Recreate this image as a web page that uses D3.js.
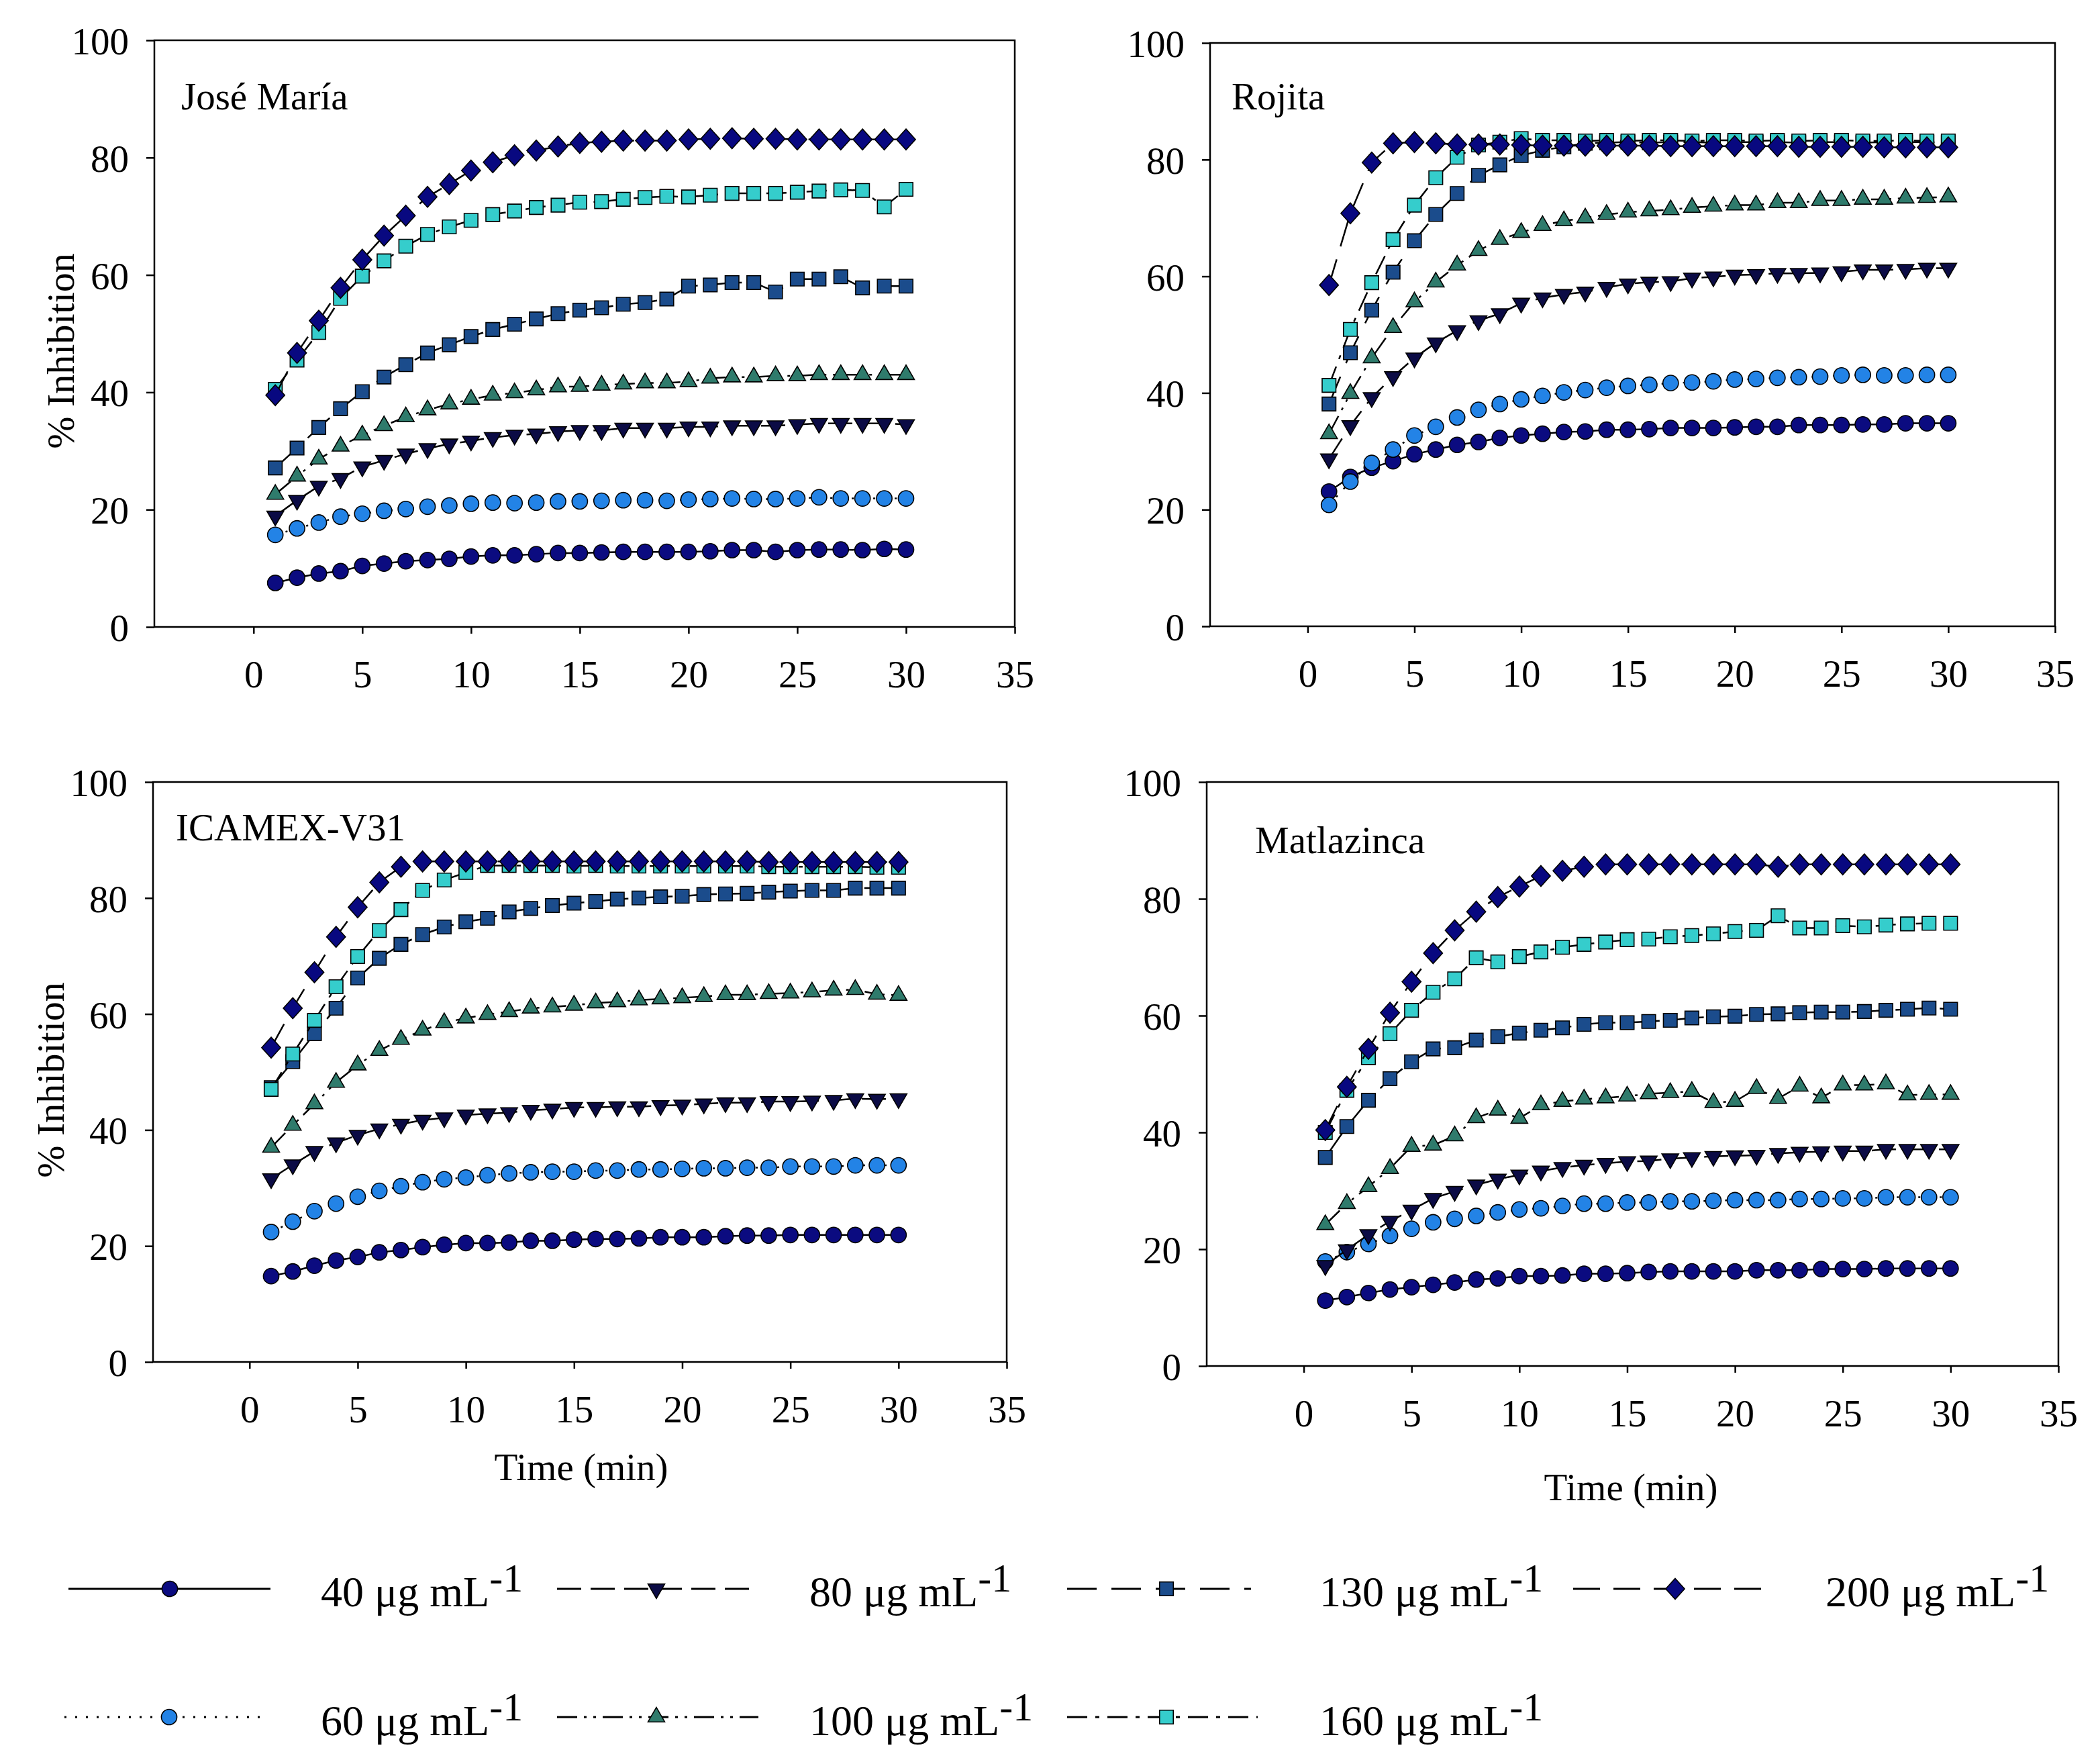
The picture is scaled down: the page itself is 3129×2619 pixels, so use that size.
<!DOCTYPE html>
<html>
<head>
<meta charset="utf-8">
<script src="https://cdn.jsdelivr.net/npm/d3@7"></script>
<style>
  body { margin: 0; background: #fff; }
  svg text { font-family: "Liberation Serif", "Times New Roman", serif; fill: #000; }
</style>
</head>
<body>
<div id="chart"></div>
<script>
// x values (minutes)
const time = [1,2,3,4,5,6,7,8,9,10,11,12,13,14,15,16,17,18,19,20,21,22,23,24,25,26,27,28,29,30];
const concentrations = [40, 60, 80, 100, 130, 160, 200];
const panelNames = ["José María", "Rojita", "ICAMEX-V31", "Matlazinca"];
const xTicks = [0, 5, 10, 15, 20, 25, 30, 35];
const yTicks = [0, 20, 40, 60, 80, 100];

// José María
const jm40  = [7.5,8.4,9.1,9.5,10.4,10.8,11.2,11.4,11.6,12.0,12.2,12.2,12.4,12.6,12.6,12.7,12.8,12.8,12.8,12.8,12.9,13.1,13.1,12.8,13.1,13.2,13.2,13.1,13.3,13.2];
const jm60  = [15.7,16.8,17.8,18.8,19.3,19.8,20.1,20.5,20.7,21.0,21.2,21.1,21.2,21.4,21.4,21.5,21.6,21.6,21.5,21.7,21.8,21.9,21.8,21.8,21.9,22.1,21.9,21.9,21.9,21.9];
const jm80  = [18.9,21.6,24.0,25.3,27.3,28.4,29.5,30.4,31.2,31.7,32.3,32.7,32.9,33.3,33.5,33.5,33.9,33.9,33.9,34.1,34.1,34.3,34.3,34.3,34.5,34.7,34.7,34.7,34.7,34.5];
const jm100 = [22.6,25.7,28.6,30.8,32.7,34.3,35.8,37.0,38.0,38.8,39.5,39.9,40.4,40.9,41.0,41.2,41.4,41.6,41.6,41.8,42.4,42.6,42.6,42.8,42.8,43.0,43.0,43.0,43.0,43.0];
const jm130 = [27.1,30.5,34.0,37.2,40.1,42.6,44.7,46.7,48.1,49.5,50.7,51.6,52.5,53.4,54.0,54.4,55.0,55.3,55.9,58.1,58.3,58.7,58.7,57.1,59.3,59.3,59.7,57.8,58.1,58.1];
const jm160 = [40.5,45.5,50.2,56.0,59.8,62.4,64.9,66.9,68.2,69.3,70.3,70.9,71.5,71.9,72.4,72.5,72.9,73.2,73.4,73.3,73.6,73.9,73.9,73.9,74.1,74.3,74.5,74.4,71.6,74.6];
const jm200 = [39.5,46.7,52.2,57.8,62.6,66.7,70.1,73.3,75.5,77.8,79.2,80.4,81.2,81.9,82.5,82.7,82.9,82.9,82.9,83.1,83.2,83.3,83.2,83.2,83.1,83.1,83.1,83.1,83.1,83.1];

// Rojita
const ro40  = [23.1,25.6,27.2,28.3,29.5,30.3,31.1,31.6,32.3,32.7,33.0,33.3,33.4,33.7,33.7,33.8,34.0,34.0,34.0,34.1,34.2,34.2,34.5,34.5,34.5,34.6,34.6,34.8,34.8,34.8];
const ro60  = [20.8,24.8,28.0,30.3,32.7,34.2,35.8,37.1,38.1,38.9,39.5,40.1,40.5,40.9,41.2,41.4,41.7,41.8,42.0,42.3,42.4,42.6,42.7,42.8,43.0,43.1,43.0,43.0,43.1,43.1];
const ro80  = [28.7,34.4,39.2,42.8,46.0,48.6,50.7,52.4,53.6,55.4,56.3,56.9,57.3,58.1,58.7,59.0,59.1,59.7,59.9,60.2,60.3,60.5,60.5,60.6,60.8,61.1,61.1,61.2,61.4,61.4];
const ro100 = [33.0,39.9,46.0,51.2,55.6,59.0,61.9,64.4,66.3,67.5,68.7,69.5,70.0,70.6,71.0,71.2,71.4,71.8,72.0,72.2,72.2,72.6,72.6,73.0,73.0,73.2,73.2,73.4,73.5,73.6];
const ro130 = [38.1,46.9,54.2,60.7,66.1,70.6,74.2,77.3,79.1,80.7,81.6,82.2,82.8,82.9,83.0,82.9,83.0,83.0,82.9,83.0,83.0,83.0,82.9,83.0,83.0,82.9,83.0,83.0,83.0,82.9];
const ro160 = [41.3,50.9,58.9,66.3,72.2,76.9,80.4,82.5,83.0,83.6,83.3,83.3,83.2,83.3,83.2,83.3,83.3,83.2,83.3,83.3,83.2,83.3,83.2,83.3,83.3,83.2,83.2,83.3,83.2,83.2];
const ro200 = [58.5,70.8,79.5,82.8,83.0,82.8,82.6,82.6,82.6,82.5,82.4,82.4,82.4,82.4,82.4,82.4,82.3,82.3,82.3,82.3,82.3,82.3,82.2,82.2,82.2,82.2,82.1,82.1,82.1,82.1];

// ICAMEX-V31
const ic40  = [14.8,15.6,16.6,17.5,18.1,18.9,19.3,19.8,20.2,20.5,20.5,20.6,20.9,20.9,21.1,21.2,21.2,21.3,21.5,21.5,21.5,21.7,21.8,21.8,21.9,21.9,21.9,21.9,21.9,21.9];
const ic60  = [22.4,24.2,26.0,27.3,28.5,29.5,30.3,31.0,31.5,31.8,32.2,32.5,32.7,32.8,32.8,33.0,33.0,33.2,33.2,33.3,33.4,33.4,33.5,33.5,33.7,33.7,33.7,33.9,33.9,33.9];
const ic80  = [31.6,34.0,36.3,37.8,39.1,40.2,41.0,41.7,42.1,42.6,42.8,43.0,43.4,43.6,43.9,43.9,44.0,44.0,44.2,44.3,44.5,44.7,44.7,44.9,44.9,45.0,45.1,45.4,45.3,45.4];
const ic100 = [37.0,40.8,44.5,48.2,51.2,53.7,55.6,57.2,58.5,59.3,59.9,60.4,61.0,61.2,61.5,61.9,62.1,62.4,62.6,62.8,63.0,63.3,63.3,63.5,63.6,63.8,64.1,64.2,63.4,63.2];
const ic130 = [47.3,51.8,56.6,61.0,66.2,69.6,72.0,73.7,75.0,75.9,76.5,77.6,78.2,78.7,79.1,79.4,79.8,80.0,80.2,80.3,80.6,80.7,80.8,81.0,81.2,81.3,81.3,81.7,81.7,81.7];
const ic160 = [47.0,53.1,58.9,64.7,69.9,74.4,78.0,81.3,83.1,84.4,85.6,85.6,85.6,85.6,85.5,85.6,85.5,85.5,85.5,85.5,85.5,85.5,85.5,85.4,85.4,85.4,85.4,85.4,85.3,85.3];
const ic200 = [54.2,61.0,67.2,73.3,78.4,82.7,85.4,86.3,86.3,86.3,86.3,86.3,86.3,86.3,86.3,86.3,86.3,86.3,86.3,86.3,86.3,86.3,86.3,86.2,86.2,86.2,86.2,86.2,86.2,86.2];

// Matlazinca
const ma40  = [11.2,11.8,12.5,13.1,13.5,13.9,14.3,14.8,15.0,15.4,15.4,15.5,15.8,15.8,15.9,16.1,16.2,16.2,16.2,16.2,16.4,16.4,16.4,16.6,16.6,16.6,16.7,16.7,16.7,16.7];
const ma60  = [17.9,19.5,20.9,22.3,23.5,24.6,25.2,25.7,26.3,26.8,27.0,27.4,27.8,27.8,28.0,28.0,28.2,28.2,28.3,28.4,28.4,28.4,28.6,28.6,28.7,28.7,28.9,28.9,28.9,28.9];
const ma80  = [17.2,19.9,22.5,24.8,26.7,28.7,29.9,31.0,32.0,32.7,33.4,34.0,34.4,34.7,35.0,35.1,35.5,35.7,35.9,36.0,36.1,36.4,36.6,36.7,36.8,36.8,37.1,37.1,37.1,37.1];
const ma100 = [24.2,27.8,30.7,33.8,37.6,37.8,39.4,42.5,43.8,42.4,44.7,45.3,45.7,45.9,46.2,46.6,46.8,47.0,45.1,45.3,47.5,45.8,47.9,45.9,48.1,48.1,48.3,46.4,46.5,46.5];
const ma130 = [35.7,41.0,45.5,49.2,52.1,54.3,54.5,55.8,56.4,57.0,57.5,57.9,58.5,58.8,58.8,59.0,59.2,59.6,59.8,59.9,60.2,60.3,60.5,60.6,60.6,60.7,60.9,61.1,61.3,61.1];
const ma160 = [40.0,47.2,52.8,56.9,60.9,64.0,66.3,69.9,69.2,70.1,70.9,71.7,72.2,72.6,73.0,73.1,73.5,73.7,74.0,74.4,74.6,77.1,75.0,75.0,75.4,75.2,75.5,75.7,75.8,75.8];
const ma200 = [40.4,47.8,54.3,60.5,65.8,70.7,74.6,77.8,80.3,82.1,83.9,84.8,85.5,85.9,85.9,85.9,85.9,85.9,85.9,85.9,85.9,85.5,85.9,85.9,85.9,85.9,85.9,85.9,85.9,85.9];

const panelSeries = [
    [jm40, jm60, jm80, jm100, jm130, jm160, jm200],
    [ro40, ro60, ro80, ro100, ro130, ro160, ro200],
    [ic40, ic60, ic80, ic100, ic130, ic160, ic200],
    [ma40, ma60, ma80, ma100, ma130, ma160, ma200]
];

// styles for each concentration
const diamond = {
    draw(ctx, size) {
        const w = Math.sqrt(size / 2) * 0.95, h = Math.sqrt(size / 2) * 1.05;
        ctx.moveTo(0, -h); ctx.lineTo(w, 0); ctx.lineTo(0, h); ctx.lineTo(-w, 0); ctx.closePath();
    }
};
const styles = [
    {fill: "#0b0b80", symbol: d3.symbolCircle,   size: 420, rot: 0,   dash: null},
    {fill: "#2383e6", symbol: d3.symbolCircle,   size: 420, rot: 0,   dash: "3,13"},
    {fill: "#0b0b45", symbol: d3.symbolTriangle, size: 270, rot: 180, dash: "36,14"},
    {fill: "#2f7b6c", symbol: d3.symbolTriangle, size: 270, rot: 0,   dash: "30,10,4,10,4,10"},
    {fill: "#1b4c8c", symbol: d3.symbolSquare,   size: 420, rot: 0,   dash: "44,22"},
    {fill: "#35cdcc", symbol: d3.symbolSquare,   size: 420, rot: 0,   dash: "30,12,6,12"},
    {fill: "#080880", symbol: diamond,           size: 440, rot: 0,   dash: "40,20"}
];

// panel placement on the page
const panels = [
    {left: 230,  right: 1512, top: 60,   bottom: 934,  xmin: -4.56, label: [270, 163],   ylab: [90, 523],   tlab: null},
    {left: 1803, right: 3062, top: 64,   bottom: 933,  xmin: -4.57, label: [1835, 163],  ylab: null,        tlab: null},
    {left: 228,  right: 1500, top: 1165, bottom: 2029, xmin: -4.46, label: [262, 1252],  ylab: [75, 1609],  tlab: [866, 2205]},
    {left: 1798, right: 3067, top: 1165, bottom: 2035, xmin: -4.5,  label: [1870, 1271], ylab: null,        tlab: [2430, 2235]}
];

const W = 3129, H = 2619;
const svg = d3.select("#chart").append("svg")
    .attr("width", W)
    .attr("height", H);

const markerPath = s => d3.symbol().type(s.symbol).size(s.size)();

panels.forEach((p, pi) => {
    let x = d3.scaleLinear().domain([p.xmin, 35]).range([p.left, p.right]);
    let y = d3.scaleLinear().domain([0, 100]).range([p.bottom, p.top]);

    let g = svg.append("g").attr("class", "panel");

    // frame
    g.append("rect")
        .attr("x", p.left).attr("y", p.top)
        .attr("width", p.right - p.left).attr("height", p.bottom - p.top)
        .style("fill", "none").style("stroke", "#000").style("stroke-width", 2.5);

    let xAxis = g.append("g")
        .attr("transform", "translate(0," + p.bottom + ")")
        .call(d3.axisBottom(x).tickValues(xTicks).tickSize(10).tickSizeOuter(0).tickPadding(40));
    let yAxis = g.append("g")
        .attr("transform", "translate(" + p.left + ",0)")
        .call(d3.axisLeft(y).tickValues(yTicks).tickSize(12).tickSizeOuter(0).tickPadding(26));

    [xAxis, yAxis].forEach(a => {
        a.select(".domain").remove();
        a.selectAll("line").style("stroke", "#000").style("stroke-width", 2.5);
        a.selectAll("text").style("font-size", "57px").style("font-family", "Liberation Serif");
    });
    yAxis.selectAll("text").attr("dy", "0.36em");

    g.append("text")
        .attr("x", p.label[0]).attr("y", p.label[1])
        .style("font-size", "57px")
        .text(panelNames[pi]);

    if (p.ylab) {
        g.append("text")
            .attr("transform", "translate(" + p.ylab[0] + "," + p.ylab[1] + ") rotate(-90)")
            .attr("dy", "0.35em")
            .style("text-anchor", "middle")
            .style("font-size", "58px")
            .text("% Inhibition");
    }
    if (p.tlab) {
        g.append("text")
            .attr("x", p.tlab[0]).attr("y", p.tlab[1])
            .style("text-anchor", "middle")
            .style("font-size", "57px")
            .text("Time (min)");
    }

    let line = d3.line()
        .x((d, i) => x(time[i]))
        .y(d => y(d));

    panelSeries[pi].forEach((vals, si) => {
        let s = styles[si];
        let sg = g.append("g").attr("class", "series");
        sg.append("path")
            .datum(vals)
            .attr("d", line)
            .style("fill", "none")
            .style("stroke", "#000")
            .style("stroke-width", 2.5)
            .style("stroke-dasharray", s.dash);
        sg.selectAll("path.marker")
            .data(vals)
            .enter().append("path")
            .attr("class", "marker")
            .attr("d", markerPath(s))
            .attr("transform", (d, i) => "translate(" + x(time[i]) + "," + y(d) + ") rotate(" + s.rot + ")")
            .style("fill", s.fill)
            .style("stroke", "#000")
            .style("stroke-width", 1.6);
    });
});

// Legend
const legendPos = [
    {x1: 102,  x2: 403,  mx: 253,  tx: 478,  y: 2367, ty: 2393},   // 40
    {x1: 96,   x2: 400,  mx: 252,  tx: 478,  y: 2558, ty: 2585},   // 60
    {x1: 830,  x2: 1124, mx: 978,  tx: 1206, y: 2367, ty: 2393},   // 80
    {x1: 830,  x2: 1130, mx: 978,  tx: 1206, y: 2558, ty: 2585},   // 100
    {x1: 1590, x2: 1864, mx: 1738, tx: 1966, y: 2367, ty: 2393},   // 130
    {x1: 1590, x2: 1874, mx: 1738, tx: 1966, y: 2558, ty: 2585},   // 160
    {x1: 2344, x2: 2630, mx: 2496, tx: 2720, y: 2367, ty: 2393}    // 200
];

let legend = svg.append("g").attr("class", "legend")
    .selectAll("g")
    .data(concentrations)
    .enter().append("g");

legend.append("line")
    .attr("x1", (d, i) => legendPos[i].x1)
    .attr("x2", (d, i) => legendPos[i].x2)
    .attr("y1", (d, i) => legendPos[i].y)
    .attr("y2", (d, i) => legendPos[i].y)
    .style("stroke", "#000")
    .style("stroke-width", 3)
    .style("stroke-dasharray", (d, i) => styles[i].dash);

legend.append("path")
    .attr("d", (d, i) => markerPath(styles[i]))
    .attr("transform", (d, i) => "translate(" + legendPos[i].mx + "," + legendPos[i].y + ") rotate(" + styles[i].rot + ")")
    .style("fill", (d, i) => styles[i].fill)
    .style("stroke", "#000")
    .style("stroke-width", 1.6);

let lt = legend.append("text")
    .attr("x", (d, i) => legendPos[i].tx)
    .attr("y", (d, i) => legendPos[i].ty)
    .style("font-size", "64px");
lt.append("tspan").text(d => d + " μg mL");
lt.append("tspan")
    .attr("dy", -22)
    .style("font-size", "60px")
    .text("-1");
</script>
</body>
</html>
